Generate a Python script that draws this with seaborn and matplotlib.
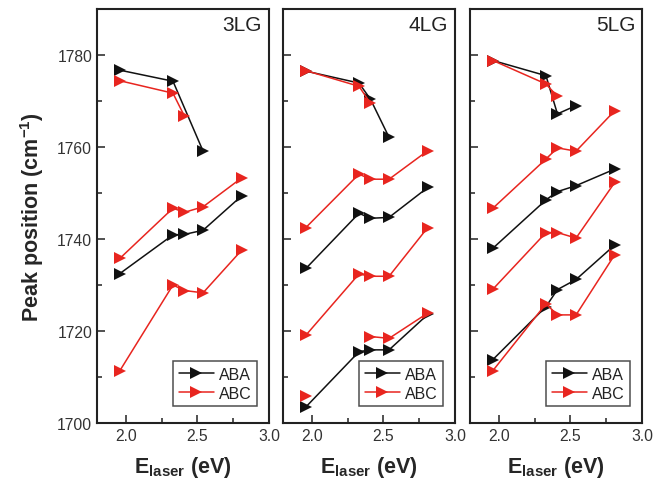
import matplotlib
matplotlib.use("Agg")
import matplotlib.pyplot as plt
import seaborn as sns
import pandas as pd
from matplotlib.lines import Line2D
from matplotlib.ticker import MultipleLocator

sns.set_theme(style="ticks")
plt.rcParams["font.family"] = ["Liberation Sans", "DejaVu Sans"]
plt.rcParams["mathtext.fontset"] = "custom"
plt.rcParams["mathtext.rm"] = "Liberation Sans"
plt.rcParams["mathtext.bf"] = "Liberation Sans:bold"
plt.rcParams["mathtext.default"] = "bf"

# ---------------- data ----------------
energies = [1.96, 2.33, 2.41, 2.54, 2.81]
panel_names = ["3LG", "4LG", "5LG"]
legend_labels = ["ABA", "ABC"]

# 3LG
aba_3lg_upper = [1776.7, 1774.3, None, 1759.1, None]
abc_3lg_upper = [1774.4, 1771.7, 1766.7, None, None]
aba_3lg_mid = [1732.5, 1740.9, 1741.0, 1741.9, 1749.4]
abc_3lg_mid = [1735.8, 1746.7, 1745.8, 1747.0, 1753.3]
abc_3lg_low = [1711.4, 1730.0, 1728.8, 1728.3, 1737.6]

# 4LG
aba_4lg_upper = [1776.5, 1773.9, 1770.4, 1762.1, None]
abc_4lg_upper = [1776.6, 1773.2, 1769.5, None, None]
aba_4lg_mid = [1733.6, 1745.6, 1744.5, 1744.7, 1751.2]
abc_4lg_mid = [1742.5, 1754.1, 1753.0, 1753.0, 1759.2]
abc_4lg_low = [1719.1, 1732.4, 1731.9, 1731.9, 1742.5]
aba_4lg_bottom = [1703.5, 1715.5, 1715.9, 1715.9, 1723.6]
abc_4lg_bottom = [None, None, 1718.8, 1718.4, 1723.9]
abc_4lg_bottom_single = [1705.9, None, None, None, None]

# 5LG
aba_5lg_upper = [1778.8, 1775.5, 1767.2, 1769.0, None]
abc_5lg_upper = [1778.8, 1773.7, 1771.0, None, None]
aba_5lg_mid = [1738.0, 1748.5, 1750.3, 1751.6, 1755.2]
abc_5lg_mid = [1746.7, 1757.4, 1759.8, 1759.1, 1767.9]
abc_5lg_low = [1729.1, 1741.4, 1741.4, 1740.2, 1752.3]
aba_5lg_bottom = [1713.8, 1725.3, 1729.0, 1731.2, 1738.7]
abc_5lg_bottom = [1711.4, 1725.9, 1723.5, 1723.5, 1736.6]

panel_series = [
    [("ABA", aba_3lg_upper), ("ABC", abc_3lg_upper), ("ABA", aba_3lg_mid),
     ("ABC", abc_3lg_mid), ("ABC", abc_3lg_low)],
    [("ABA", aba_4lg_upper), ("ABC", abc_4lg_upper), ("ABA", aba_4lg_mid),
     ("ABC", abc_4lg_mid), ("ABC", abc_4lg_low), ("ABA", aba_4lg_bottom),
     ("ABC", abc_4lg_bottom), ("ABC", abc_4lg_bottom_single)],
    [("ABA", aba_5lg_upper), ("ABC", abc_5lg_upper), ("ABA", aba_5lg_mid),
     ("ABC", abc_5lg_mid), ("ABC", abc_5lg_low), ("ABA", aba_5lg_bottom),
     ("ABC", abc_5lg_bottom)],
]

colors = {"ABA": "#111111", "ABC": "#e8251f"}
MS = 8.5

# ---------------- figure ----------------
fig = plt.figure(figsize=(6.55, 4.89), dpi=100)
W, H = 655, 489
lefts = [97, 283, 470]
pw = 172
top_px, bot_px = 10, 424

for i, (name, series) in enumerate(zip(panel_names, panel_series)):
    ax = fig.add_axes([lefts[i] / W, 1 - bot_px / H, pw / W, (bot_px - top_px) / H])
    # draw ABA first, ABC on top
    for kind in ["ABA", "ABC"]:
        for k, vals in series:
            if k != kind:
                continue
            df = pd.DataFrame({"E": energies, "v": vals}).dropna()
            sns.lineplot(data=df, x="E", y="v", ax=ax, color=colors[k],
                         marker=">", markersize=MS, markeredgewidth=0,
                         linewidth=1.1, estimator=None, sort=False, legend=False)
    ax.set_xlim(1.8, 3.0)
    ax.set_ylim(1700, 1790)
    ax.xaxis.set_major_locator(MultipleLocator(0.5))
    ax.xaxis.set_minor_locator(MultipleLocator(0.25))
    ax.yaxis.set_major_locator(MultipleLocator(20))
    ax.yaxis.set_minor_locator(MultipleLocator(10))
    ax.tick_params(which="both", direction="in", top=False, right=False,
                   labelsize=11.3, labelcolor="#333333", width=1.1, color="#222222")
    ax.tick_params(which="major", length=6)
    ax.tick_params(which="minor", length=3.5)
    ax.set_yticks([1700, 1720, 1740, 1760, 1780])
    if i > 0:
        ax.tick_params(axis="y", labelleft=False)
        ax.set_ylabel("")
    else:
        ax.set_ylabel("Peak position (cm$^{-1}$)", fontsize=15.5, fontweight="bold",
                      labelpad=8)
    ax.set_xticks([2.0, 2.5, 3.0])
    ax.set_xticklabels(["2.0", "2.5", "3.0"])
    ax.set_xlabel("E$_{laser}$ (eV)", fontsize=15.5, fontweight="bold", labelpad=8)
    for sp in ax.spines.values():
        sp.set_linewidth(1.5)
        sp.set_color("#222222")
    ax.text(0.96, 0.985, name, transform=ax.transAxes, ha="right", va="top",
            fontsize=15, color="#222222")
    handles = [Line2D([], [], color=colors[l], marker=">", markersize=MS,
                      markeredgewidth=0, linewidth=1.1) for l in legend_labels]
    leg = ax.legend(handles, legend_labels, loc="lower right", fontsize=11.5,
                    frameon=True, fancybox=False, edgecolor="#222222",
                    handlelength=2.2, handletextpad=0.3, borderpad=0.35,
                    labelspacing=0.25, borderaxespad=0,
                    bbox_to_anchor=(0.93, 0.04))
    leg.get_frame().set_linewidth(1.1)
    for t in leg.get_texts():
        t.set_color("#222222")

fig.savefig("out.png", dpi=100)
